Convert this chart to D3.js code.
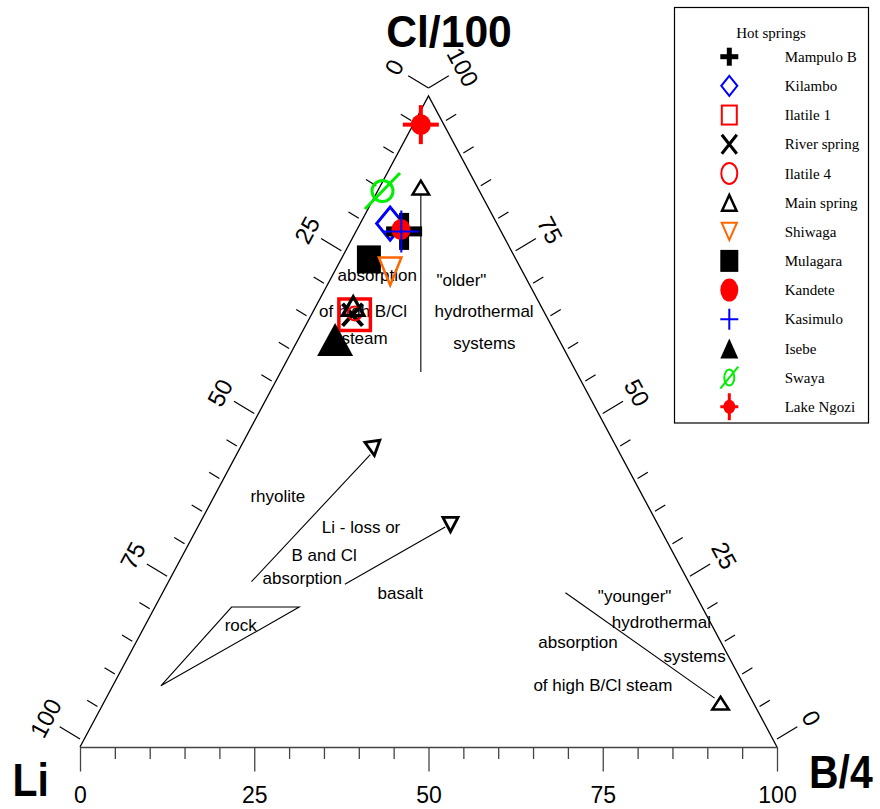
<!DOCTYPE html>
<html><head><meta charset="utf-8">
<script src="https://cdn.jsdelivr.net/npm/d3@7"></script>
<style>body{margin:0;background:#fff}</style>
</head><body>
<svg id="c" width="880" height="809"></svg>
<script>
// ---------- data (ternary %: Li, Cl/100, B/4) ----------
const springs = ["Mampulo B","Kilambo","Ilatile 1","River spring","Ilatile 4","Main spring","Shiwaga","Mulagara","Kandete","Kasimulo","Isebe","Swaya","Lake Ngozi"];
const liVals = [13.9,15.3,27.4,27.7,27.3,26.9,19.0,21.1,14.2,14.3,32.1,13.9,3.3];
const clVals = [79.2,80.4,66.4,66.4,66.6,67.8,73.0,74.9,79.5,79.2,62.6,85.4,95.6];
const bVals  = [6.9,4.3,6.2,5.9,6.1,5.3,8.0,4.0,6.3,6.5,5.3,0.7,1.1];
const drawOrder = ["Kilambo","Mampulo B","Kandete","Kasimulo","Mulagara","Shiwaga","Ilatile 1","River spring","Ilatile 4","Main spring","Isebe","Swaya","Lake Ngozi"];

const tickVals = d3.range(0,101,5);
const majorTicks = [0,25,50,75,100];

// guide lines, in (B/4, Cl/100)
const olderLine    = [[6.5,84.8],[20.1,57.6]];
const rhyoliteLine = [[11.9,25.4],[19.2,44.9]];
const basaltLine   = [[25.5,25.0],[35.5,33.8]];
const rockField    = [[6.9,9.4],[11.0,21.5],[20.7,21.5]];
const youngerLine  = [[57.8,23.7],[87.3,7.5]];
const arrowNames = ["older","rhyolite","basalt","younger"];
const arrowB  = [5.9,19.2,36.1,88.5];
const arrowCl = [86.0,45.8,34.1,6.8];

// annotation texts: [text, B/4, Cl/100] (left anchor)
const noteTexts = [
  ["\"older\"",15.3,71.7],["hydrothermal",17.4,66.9],["systems",22.5,62.1],
  ["absorption",0.7,72.5],["of high B/Cl",0.8,67.0],["steam",6.1,62.8],
  ["rhyolite",5.2,38.5],["Li - loss or",17.8,33.8],["B and Cl",15.6,29.5],["absorption",13.2,26.0],
  ["basalt",30.9,23.6],["rock",11.4,18.7],
  ["\"younger\"",62.7,23.2],["hydrothermal",66.7,19.2],["absorption",57.7,16.1],["systems",76.7,14.0],["of high B/Cl steam",60.3,9.5]
];

// ---------- styles ----------
const plotStyle = {
 "Mampulo B":   {type:"boldplus", color:"#000",    w:36,h:37,sw:10},
 "Kilambo":     {type:"diamond",  color:"#0000ff", w:30,h:36,sw:3},
 "Ilatile 1":   {type:"square",   color:"#ff0000", w:35,h:35,sw:3.5},
 "River spring":{type:"x",        color:"#000",    w:24,h:26,sw:4},
 "Ilatile 4":   {type:"circle",   color:"#ff0000", w:16,h:16,sw:2},
 "Main spring": {type:"tri",      color:"#000",    w:26,h:23,sw:3.2},
 "Shiwaga":     {type:"tridown",  color:"#ff6600", w:26,h:31,sw:2.5},
 "Mulagara":    {type:"fsquare",  color:"#000",    w:24,h:28},
 "Kandete":     {type:"fcircle",  color:"#ff0000", w:19,h:21},
 "Kasimulo":    {type:"plus",     color:"#0000ff", w:35,h:42,sw:2},
 "Isebe":       {type:"ftri",     color:"#000",    w:36,h:33},
 "Swaya":       {type:"slash",    color:"#00ee00", w:24,h:24,sw:3,w2:35,h2:36},
 "Lake Ngozi":  {type:"cross",    color:"#ff0000", w:20,h:21,sw:4,w2:36,h2:39}
};
const legendStyle = {
 "Mampulo B":   {type:"boldplus", color:"#000",    w:18,h:18,sw:5},
 "Kilambo":     {type:"diamond",  color:"#0000ff", w:18,h:22,sw:2},
 "Ilatile 1":   {type:"square",   color:"#ff0000", w:17,h:21,sw:2},
 "River spring":{type:"x",        color:"#000",    w:18,h:22,sw:3},
 "Ilatile 4":   {type:"circle",   color:"#ff0000", w:18,h:23,sw:2},
 "Main spring": {type:"tri",      color:"#000",    w:18,h:19,sw:2.5},
 "Shiwaga":     {type:"tridown",  color:"#ff6600", w:18,h:20,sw:2},
 "Mulagara":    {type:"fsquare",  color:"#000",    w:18,h:22},
 "Kandete":     {type:"fcircle",  color:"#ff0000", w:18,h:23},
 "Kasimulo":    {type:"plus",     color:"#0000ff", w:18,h:21,sw:2},
 "Isebe":       {type:"ftri",     color:"#000",    w:18,h:20},
 "Swaya":       {type:"slash",    color:"#00ee00", w:12,h:18,sw:2,w2:18,h2:22},
 "Lake Ngozi":  {type:"cross",    color:"#ff0000", w:12,h:14,sw:3,w2:18,h2:27}
};
const arrowStyle = {
 "older":   {type:"tri",     color:"#000", w:20,h:17,sw:2.5},
 "rhyolite":{type:"tridown", color:"#000", w:19,h:18,sw:2.8, rot:-8},
 "basalt":  {type:"tridown", color:"#000", w:19,h:18,sw:2.8},
 "younger": {type:"tri",     color:"#000", w:20,h:16,sw:2.5}
};

// ---------- scales ----------
const svg = d3.select("#c");
const sx = d3.scaleLinear().domain([0,100]).range([80,777]);   // B/4 + Cl/2
const sy = d3.scaleLinear().domain([0,100]).range([747,96]);   // Cl/100
const P = (b,cl) => [sx(b + cl/2), sy(cl)];

// ---------- symbols ----------
function sym(g, st, cx, cy){
  const s = g.append("g").attr("transform", `translate(${cx},${cy})` + (st.rot ? ` rotate(${st.rot})` : ""));
  const hw = st.w/2, hh = st.h/2, sw = st.sw||0, i = sw/2, c = st.color;
  const stroked = e => e.attr("fill","none").attr("stroke",c).attr("stroke-width",sw);
  switch(st.type){
    case "boldplus":
      s.append("rect").attr("x",-hw).attr("y",-sw/2).attr("width",st.w).attr("height",sw).attr("fill",c);
      s.append("rect").attr("x",-sw/2).attr("y",-hh).attr("width",sw).attr("height",st.h).attr("fill",c); break;
    case "diamond":
      stroked(s.append("path").attr("d",`M0,${-hh+i}L${hw-i},0L0,${hh-i}L${-hw+i},0Z`)); break;
    case "square":
      stroked(s.append("rect").attr("x",-hw+i).attr("y",-hh+i).attr("width",st.w-sw).attr("height",st.h-sw)); break;
    case "x":
      stroked(s.append("path").attr("d",`M${-hw+i},${-hh+i}L${hw-i},${hh-i}M${hw-i},${-hh+i}L${-hw+i},${hh-i}`)); break;
    case "circle":
      stroked(s.append("ellipse").attr("rx",hw-i).attr("ry",hh-i)); break;
    case "tri":
      stroked(s.append("path").attr("d",`M0,${-hh+i*1.6}L${hw-i*1.4},${hh-i}L${-hw+i*1.4},${hh-i}Z`)); break;
    case "tridown":
      stroked(s.append("path").attr("d",`M0,${hh-i*1.6}L${hw-i*1.4},${-hh+i}L${-hw+i*1.4},${-hh+i}Z`)); break;
    case "fsquare":
      s.append("rect").attr("x",-hw).attr("y",-hh).attr("width",st.w).attr("height",st.h).attr("fill",c); break;
    case "fcircle":
      s.append("ellipse").attr("rx",hw).attr("ry",hh).attr("fill",c); break;
    case "plus":
      stroked(s.append("path").attr("d",`M${-hw},0H${hw}M0,${-hh}V${hh}`)); break;
    case "ftri":
      s.append("path").attr("d",`M0,${-hh}L${hw},${hh}L${-hw},${hh}Z`).attr("fill",c); break;
    case "slash":
      stroked(s.append("ellipse").attr("rx",hw-i).attr("ry",hh-i));
      stroked(s.append("path").attr("d",`M${-st.w2/2},${st.h2/2}L${st.w2/2},${-st.h2/2}`)); break;
    case "cross":
      s.append("ellipse").attr("rx",hw).attr("ry",hh).attr("fill",c);
      s.append("rect").attr("x",-st.w2/2).attr("y",-sw/2).attr("width",st.w2).attr("height",sw).attr("fill",c);
      s.append("rect").attr("x",-sw/2).attr("y",-st.h2/2).attr("width",sw).attr("height",st.h2).attr("fill",c); break;
  }
}

// ---------- triangle frame ----------
const line = d3.line().x(d => P(d[0],d[1])[0]).y(d => P(d[0],d[1])[1]);
svg.append("path").attr("d", line([[0,0],[0,100],[100,0]]))
   .attr("fill","none").attr("stroke","#000").attr("stroke-width",1.3);

// bottom axis (B/4)
const axMinor = d3.axisBottom(sx).tickValues(tickVals.filter(v => !majorTicks.includes(v)))
  .tickSize(12).tickSizeOuter(0).tickFormat("");
const gMin = svg.append("g").attr("transform",`translate(0,${sy(0)})`).call(axMinor);
gMin.select(".domain").remove();
const axMajor = d3.axisBottom(sx).tickValues(majorTicks).tickSize(24.5).tickSizeOuter(0).tickPadding(15);
const gMaj = svg.append("g").attr("transform",`translate(0,${sy(0)})`).call(axMajor);
[gMin,gMaj].forEach(g => { g.selectAll("line").attr("stroke","#444").attr("stroke-width",1.3);
  g.select(".domain").attr("stroke","#444").attr("stroke-width",1.5); });
gMaj.selectAll("text").attr("font-family","'Liberation Sans Narrow','Arial Narrow',sans-serif")
  .attr("font-size",23).attr("fill","#000");

// side ticks
const tickLift = 8, dirL = [-0.856,-0.52], dirR = [0.856,-0.52];
function sideTicks(pointFn, dir, rot){
  const g = svg.append("g");
  tickVals.forEach(v => {
    const [x,y] = pointFn(v); const y0 = y - tickLift;
    const len = majorTicks.includes(v) ? 23.7 : 12;
    g.append("line").attr("x1",x).attr("y1",y0).attr("x2",x+dir[0]*len).attr("y2",y0+dir[1]*len)
      .attr("stroke","#000").attr("stroke-width",1.2);
    if (majorTicks.includes(v)) {
      g.append("text").attr("transform",`translate(${x+dir[0]*40},${y0+dir[1]*40}) rotate(${rot})`)
        .attr("text-anchor","middle").attr("dy","0.35em")
        .attr("font-family","'Liberation Sans Narrow','Arial Narrow',sans-serif").attr("font-size",24)
        .text(v);
    }
  });
}
sideTicks(v => P(0, 100 - v), dirL, -61.9);      // Li along left side
sideTicks(v => P(100 - v, v), dirR, 61.9);       // Cl along right side

// axis titles
function bigText(txt, x, y, anchor, sxk, syk, size){
  svg.append("text").attr("transform",`translate(${x},${y}) scale(${sxk},${syk})`)
    .attr("text-anchor",anchor).attr("font-family","'Liberation Sans',Arial,sans-serif")
    .attr("font-weight","bold").attr("font-size",size).text(txt);
}
bigText("Cl/100", 449, 46.7, "middle", 0.97, 1.0, 44);
bigText("Li", 12.5, 796, "start", 0.93, 1.07, 44);
bigText("B/4", 809, 788, "start", 0.93, 1.05, 44);

// ---------- guide lines ----------
const guides = svg.append("g").attr("fill","none").attr("stroke","#000").attr("stroke-width",1.1);
[olderLine, rhyoliteLine, basaltLine, youngerLine].forEach(l => guides.append("path").attr("d", line(l)));
guides.append("path").attr("d", line(rockField) + "Z");
arrowNames.forEach((n,k) => { const [x,y] = P(arrowB[k], arrowCl[k]); sym(svg, arrowStyle[n], x, y); });

// annotation texts
noteTexts.forEach(t => {
  const [x,y] = P(t[1], t[2]);
  svg.append("text").attr("x",x).attr("y",y).attr("dy","0.35em")
    .attr("font-family","'Liberation Sans',Arial,sans-serif").attr("font-size",17).text(t[0]);
});

// ---------- data points ----------
const pts = svg.append("g");
drawOrder.forEach(n => {
  const k = springs.indexOf(n);
  const [x,y] = P(bVals[k], clVals[k]);
  sym(pts, plotStyle[n], x, y);
});

// ---------- legend ----------
const lg = svg.append("g");
lg.append("rect").attr("x",674.5).attr("y",7.5).attr("width",194).attr("height",415.5)
  .attr("fill","#fff").attr("stroke","#000").attr("stroke-width",1.2);
lg.append("text").attr("x",771).attr("y",32.7).attr("dy","0.35em").attr("text-anchor","middle")
  .attr("font-family","'Liberation Serif','Times New Roman',serif").attr("font-size",15).text("Hot springs");
springs.forEach((n,k) => {
  const y = 56.7 + k*29.17;
  sym(lg, legendStyle[n], 729.3, y);
  lg.append("text").attr("x",784.7).attr("y",y).attr("dy","0.35em")
    .attr("font-family","'Liberation Serif','Times New Roman',serif").attr("font-size",15).text(n);
});
</script>
</body></html>
